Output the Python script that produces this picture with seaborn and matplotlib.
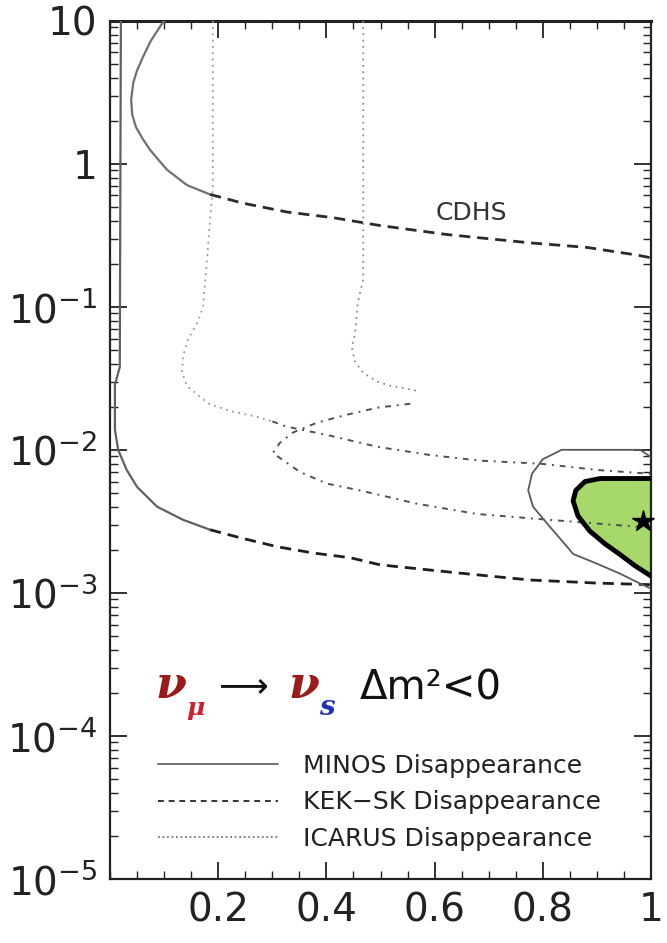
import numpy as np
import matplotlib.pyplot as plt
import seaborn as sns
from matplotlib.lines import Line2D
from matplotlib.ticker import FixedLocator, MultipleLocator, LogLocator, NullFormatter

# sin^2(2theta) on x, |dm^2| (eV^2) on y

# MINOS solid arc at the top left, joins the CDHS line
minos_top_x = [0.102, 0.098, 0.075, 0.061, 0.050, 0.043, 0.039, 0.041, 0.048, 0.060,
               0.074, 0.090, 0.105, 0.142, 0.185]
minos_top_y = [10.0, 9.8, 7.2, 5.6, 4.5, 3.7, 2.8, 2.2, 1.8, 1.5,
               1.25, 1.06, 0.91, 0.71, 0.61]

# CDHS dashed
cdhs_x = [0.185, 0.246, 0.327, 0.412, 0.499, 0.623, 0.776, 0.882, 0.974, 1.0]
cdhs_y = [0.61, 0.53, 0.46, 0.42, 0.37, 0.32, 0.28, 0.26, 0.23, 0.22]

# MINOS solid near the left edge, turning into the lower dashed line
minos_low_x = [0.020, 0.018, 0.009, 0.009, 0.015, 0.031, 0.050, 0.087, 0.135, 0.185]
minos_low_y = [10.0, 0.038, 0.0285, 0.0138, 0.010, 0.0072, 0.0055, 0.0040, 0.00324, 0.00276]
low_dash_x = [0.185, 0.240, 0.309, 0.375, 0.444, 0.499, 0.641, 0.776, 0.900, 1.0]
low_dash_y = [0.00276, 0.00243, 0.0021, 0.0019, 0.00176, 0.00157, 0.00138, 0.00123, 0.00117, 0.00114]

# ICARUS dotted (left), continuing as dash-dot
icarus1_x = [0.19, 0.19, 0.185, 0.179, 0.176, 0.172, 0.161, 0.144, 0.135, 0.133,
             0.142, 0.166, 0.185, 0.227, 0.272, 0.300]
icarus1_y = [10.0, 0.66, 0.41, 0.21, 0.155, 0.10, 0.077, 0.059, 0.045, 0.035,
             0.028, 0.0235, 0.0207, 0.0185, 0.017, 0.0158]
kek1_x = [0.300, 0.327, 0.401, 0.494, 0.591, 0.684, 0.795, 0.906, 1.0]
kek1_y = [0.0158, 0.0145, 0.0127, 0.0105, 0.0092, 0.0084, 0.0080, 0.0072, 0.0068]

# ICARUS dotted (middle)
icarus2_x = [0.468, 0.468, 0.458, 0.453, 0.447, 0.453, 0.468, 0.494, 0.518, 0.545, 0.573]
icarus2_y = [10.0, 0.155, 0.107, 0.066, 0.052, 0.041, 0.0345, 0.030, 0.028, 0.027, 0.0255]

# KEK-SK dash-dot with the nose at ~0.3
kek2_x = [0.555, 0.494, 0.438, 0.383, 0.338, 0.314, 0.301, 0.327, 0.351, 0.401,
          0.462, 0.512, 0.567, 0.678, 0.789, 0.906, 1.0]
kek2_y = [0.021, 0.0197, 0.0176, 0.0155, 0.0132, 0.0112, 0.0095, 0.0081, 0.0070, 0.0058,
          0.0052, 0.0047, 0.0042, 0.00356, 0.00329, 0.00304, 0.00285]

# thin allowed contour and green allowed region on the right
contour_x = [1.0, 0.980, 0.835, 0.800, 0.780, 0.773, 0.782, 0.813, 0.845, 0.856,
             0.900, 0.943, 0.980, 1.0]
contour_y = [0.0089, 0.0100, 0.0100, 0.0086, 0.0068, 0.0052, 0.0040, 0.0029, 0.0021, 0.00187,
             0.0016, 0.00136, 0.00116, 0.00107]
green_x = [1.0, 0.906, 0.878, 0.861, 0.856, 0.865, 0.887, 0.915, 0.943, 0.970, 1.0]
green_y = [0.0063, 0.0063, 0.0060, 0.0052, 0.0044, 0.00345, 0.0027, 0.0022, 0.00185, 0.00155, 0.00131]
best_fit = (0.985, 0.0032)

x_ticks = [0.2, 0.4, 0.6, 0.8, 1.0]
x_labels = ['0.2', '0.4', '0.6', '0.8', '1']
y_ticks = [1e-5, 1e-4, 1e-3, 1e-2, 1e-1, 1, 10]
y_labels = [r'$10^{-5}$', r'$10^{-4}$', r'$10^{-3}$', r'$10^{-2}$', r'$10^{-1}$', '1', '10']
legend_labels = ['MINOS Disappearance', 'KEK\u2212SK Disappearance', 'ICARUS Disappearance']

sns.set_style('ticks')
plt.rcParams['font.family'] = ['DejaVu Sans']

fig = plt.figure(figsize=(6.67, 9.43), dpi=100)
ax = fig.add_axes([0.165, 0.068, 0.811, 0.910])
ax.set_yscale('log')

dash = (0, (4, 2.5))
dashdot = (0, (3, 3, 1, 3))
dot = (0, (1, 2.5))

ax.fill(green_x, green_y, color='#a6d86a', zorder=2)

def line(x, y, color, lw, ls='-', z=3):
    sns.lineplot(x=np.array(x), y=np.array(y), ax=ax, sort=False, estimator=None,
                 color=color, linewidth=lw, linestyle=ls, zorder=z)

line(minos_top_x, minos_top_y, '#707070', 1.6)
line(cdhs_x, cdhs_y, '#2a2a2a', 2.0, dash)
line(minos_low_x, minos_low_y, '#606060', 1.6)
line(low_dash_x, low_dash_y, '#1e1e1e', 2.0, dash)
line(icarus1_x, icarus1_y, '#9a9a9a', 1.3, dot)
line(kek1_x, kek1_y, '#505050', 1.4, dashdot)
line(icarus2_x, icarus2_y, '#8a8a8a', 1.3, dot)
line(kek2_x, kek2_y, '#505050', 1.4, dashdot)
line(contour_x, contour_y, '#5a5a5a', 1.3)
line(green_x, green_y, 'black', 3.5, z=4)
ax.plot(*best_fit, marker='*', color='black', markersize=16, zorder=5, clip_on=False)

ax.set_xlim(0, 1)
ax.set_ylim(1e-5, 10)
ax.set_xlabel('')
ax.set_ylabel('')
ax.xaxis.set_major_locator(FixedLocator(x_ticks))
ax.set_xticklabels(x_labels)
ax.xaxis.set_minor_locator(MultipleLocator(0.05))
ax.yaxis.set_major_locator(FixedLocator(y_ticks))
ax.set_yticklabels(y_labels)
ax.yaxis.set_minor_locator(LogLocator(base=10, subs=np.arange(2, 10)))
ax.yaxis.set_minor_formatter(NullFormatter())
ax.tick_params(which='both', direction='in', top=True, right=True, colors='#222')
ax.tick_params(which='major', length=12, width=1.3, labelsize=28, pad=9)
ax.tick_params(which='minor', length=6, width=1.0)
for s in ax.spines.values():
    s.set_linewidth(1.6)
    s.set_color('#222')
ax.spines['top'].set_linewidth(2.2)

ax.text(0.668, 0.454, 'CDHS', fontsize=18, color='#333', ha='center', va='center')

# channel label, built from coloured pieces
def ftext(px, py, s, **kw):
    fig.text(px / 667, 1 - py / 943, s, va='baseline', **kw)

nu = dict(fontsize=32, family='DejaVu Serif', style='italic', weight='bold')
sub = dict(family='DejaVu Serif', style='italic', weight='bold')
ftext(155, 698, '\u03bd', color='#9b1b1b', **nu)
ftext(186, 715, '\u03bc', color='#d02030', fontsize=18, **sub)
ftext(212, 695, r'$\longrightarrow$', color='#111', fontsize=25)
ftext(288, 698, '\u03bd', color='#9b1b1b', **nu)
ftext(319, 715, 's', color='#2233bb', fontsize=20, **sub)
ftext(360, 700, '\u0394m\u00b2<0', color='#111', fontsize=29)

handles = [Line2D([], [], color='#707070', lw=1.4),
           Line2D([], [], color='#333', lw=1.4, linestyle=(0, (3, 2.5))),
           Line2D([], [], color='#777', lw=1.3, linestyle=(0, (1, 1.5)))]
fig.legend(handles, legend_labels, loc='upper left', bbox_to_anchor=(158 / 667, 1 - 754 / 943),
           frameon=False, fontsize=18, handlelength=4.8, handletextpad=1.0,
           labelspacing=0.5, borderpad=0, borderaxespad=0, labelcolor='#222')

fig.savefig('out.png', dpi=100)
